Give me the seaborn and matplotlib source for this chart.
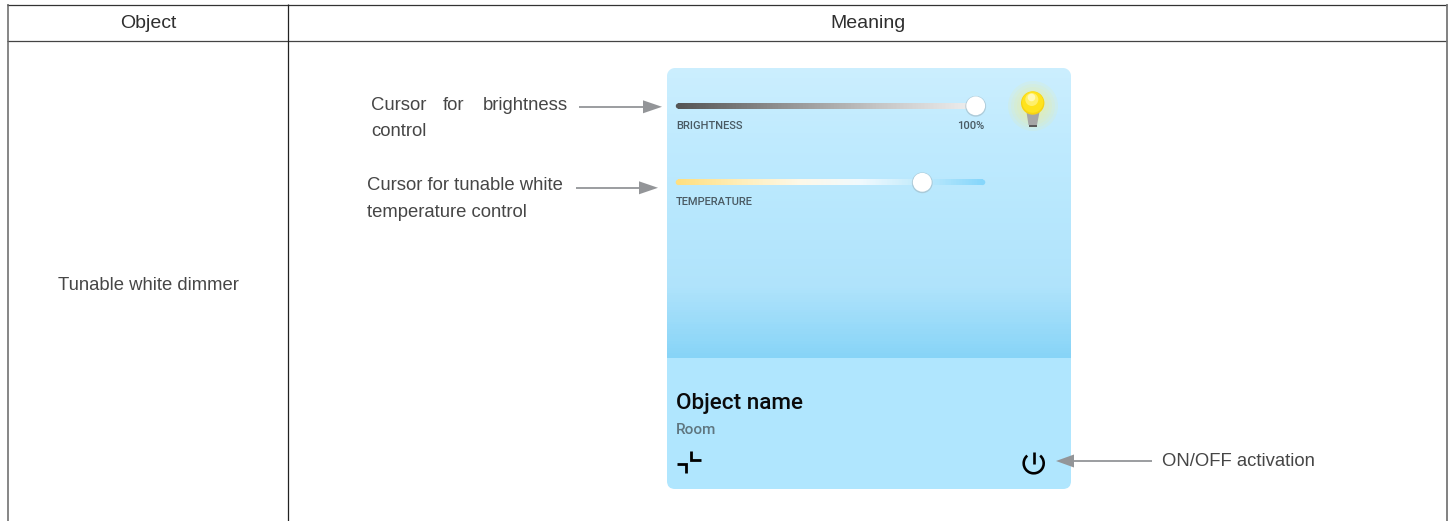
import numpy as np
import seaborn as sns
from matplotlib import pyplot as plt
from matplotlib.colors import LinearSegmentedColormap
from matplotlib.patches import FancyBboxPatch, Circle, Rectangle, Wedge, Polygon

W, H = 1453, 521

headers = ["Object", "Meaning"]
row_label = "Tunable white dimmer"
card_title = "Object name"
card_room = "Room"
slider_names = ["BRIGHTNESS", "TEMPERATURE"]
brightness_label = "100%"
brightness_level = 100
temperature_level = 79.7
callout_brightness = ["Cursor", "for", "brightness"]
callout_brightness_2 = "control"
callout_temp = ["Cursor for tunable white", "temperature control"]
callout_power = "ON/OFF activation"

card_colors = ["#cbeefe", "#bfeafe", "#b7e7fd", "#b0e3fb", "#87d4f7"]
brightness_colors = ["#555555", "#8e8e8e", "#c4c4c4", "#efefef"]
temp_colors = ["#ffdf80", "#ffedb8", "#fdf8e8", "#f0f9fd", "#c0eafc", "#86d6fb"]


def gradient_axes(fig, x0, y0, x1, y1, colors, n, z, horizontal=False):
    # a heatmap in its own axes, placed in pixels from top left
    ax = fig.add_axes([x0 / W, 1 - y1 / H, (x1 - x0) / W, (y1 - y0) / H], zorder=z)
    vals = np.linspace(0, 1, n)
    vals = vals.reshape(1, -1) if horizontal else vals.reshape(-1, 1)
    cmap = LinearSegmentedColormap.from_list("g", colors)
    sns.heatmap(vals, ax=ax, cmap=cmap, cbar=False, xticklabels=False, yticklabels=False,
                vmin=0, vmax=1, rasterized=True)
    ax.axis("off")
    return ax


def overlay(fig, z):
    ax = fig.add_axes([0, 0, 1, 1], zorder=z)
    ax.set_xlim(0, W)
    ax.set_ylim(H, 0)
    ax.axis("off")
    ax.patch.set_alpha(0)
    return ax


def main():
    sns.set_theme(style="white")
    plt.rcParams["font.family"] = ["Liberation Sans", "DejaVu Sans"]
    roboto = ["Roboto", "DejaVu Sans"]

    fig = plt.figure(figsize=(W / 100, H / 100), dpi=100, facecolor="white")
    ax = overlay(fig, 1)

    # table rules
    ax.plot([7, 1447], [4.5, 4.5], color="#333333", lw=0.9, solid_capstyle="butt")
    ax.plot([7, 1447], [40.5, 40.5], color="#444444", lw=0.9, solid_capstyle="butt")
    ax.plot([7.5, 7.5], [4, 521], color="#666666", lw=1.1, solid_capstyle="butt")
    ax.plot([287.5, 287.5], [4, 521], color="#222222", lw=0.9, solid_capstyle="butt")
    ax.plot([1447, 1447], [4, 521], color="#777777", lw=1.3, solid_capstyle="butt")

    ax.text(148, 24, headers[0], ha="center", va="center", fontsize=14, color="#2f2f2f")
    ax.text(868, 24, headers[1], ha="center", va="center", fontsize=14, color="#2f2f2f")

    body = "#464646"
    ax.text(148, 285.5, row_label, ha="center", va="center", fontsize=13.3, color=body)

    ax.add_patch(FancyBboxPatch((667, 68), 404, 421, boxstyle="round,pad=0,rounding_size=8",
                                fc="#b0e6fe", ec="none"))

    # top gradient of the card
    gradient_axes(fig, 667, 68, 1071, 358, card_colors, 120, 2)

    ax2 = overlay(fig, 3)

    # white corners over the square heatmap top
    pts = np.linspace(0, np.pi / 2, 12)
    arc = [(675 - 8 * np.cos(t), 76 - 8 * np.sin(t)) for t in pts]
    ax2.add_patch(Polygon(arc + [(667, 68)], fc="white", ec="none"))
    arc = [(1063 + 8 * np.cos(t), 76 - 8 * np.sin(t)) for t in pts]
    ax2.add_patch(Polygon(arc + [(1071, 68)], fc="white", ec="none"))

    # round ends of the slider tracks
    ax2.add_patch(Circle((678.5, 106), 2.7, fc=brightness_colors[0], ec="none"))
    ax2.add_patch(Circle((678.5, 182.3), 2.8, fc=temp_colors[0], ec="none"))
    ax2.add_patch(Circle((982.5, 182.3), 2.8, fc=temp_colors[-1], ec="none"))

    # sliders
    gradient_axes(fig, 678, 103.3, 976, 108.7, brightness_colors, 200, 4, horizontal=True)
    gradient_axes(fig, 678, 179.4, 983, 185.2, temp_colors, 200, 4, horizontal=True)

    ax3 = overlay(fig, 5)

    knob_b = 676 + (976 - 676) * brightness_level / 100
    knob_t = 676 + (985 - 676) * temperature_level / 100
    for kx, ky in [(knob_b - 0.3, 105.8), (knob_t, 182.3)]:
        ax3.add_patch(Circle((kx, ky + 0.5), 10.4, fc="#9fb7c2", ec="none", alpha=0.6))
        ax3.add_patch(Circle((kx, ky), 9.4, fc="white", ec="none"))

    label = "#4a5a63"
    for txt, yy in zip(slider_names, [126, 202]):
        ax3.text(676, yy, txt, ha="left", va="center", fontsize=8, color=label,
                 family=roboto, weight="medium")
    ax3.text(984.5, 126, brightness_label, ha="right", va="center", fontsize=8, color=label,
             family=roboto, weight="medium")

    ax3.text(675.5, 403, card_title, ha="left", va="center", fontsize=16.2, color="#0a0a0a",
             family=roboto, weight="medium")
    ax3.text(675.5, 430.5, card_room, ha="left", va="center", fontsize=11, color="#5f7680",
             family=roboto, weight="medium")

    # collapse icon
    ax3.plot([677, 686.4, 686.4], [463.5, 463.5, 473], color="black", lw=2, solid_joinstyle="miter",
             solid_capstyle="butt")
    ax3.plot([690.8, 690.8, 701], [451, 459.5, 459.5], color="black", lw=2, solid_joinstyle="miter",
             solid_capstyle="butt")

    # power icon
    ax3.add_patch(Wedge((1033.7, 463.3), 11.3, -50, 230, width=2.6, fc="black", ec="none"))
    ax3.plot([1033.7, 1033.7], [451.7, 464], color="black", lw=1.9, solid_capstyle="butt")

    # bulb
    for r in [25, 22, 19, 16, 13]:
        ax3.add_patch(Circle((1033, 106), r, fc="#f6f28c", ec="none", alpha=0.13))
    ax3.add_patch(Polygon([(1026.5, 112), (1039.5, 112), (1037, 125), (1028.5, 125)], fc="#a6a6a6", ec="none"))
    ax3.add_patch(Rectangle((1029, 124.5), 7.5, 2.7, fc="#5a5a5a", ec="none"))
    ax3.add_patch(Circle((1032.7, 103), 11.7, fc="#f7d312", ec="none"))
    ax3.add_patch(Circle((1032.7, 102.2), 10.6, fc="#ffe31c", ec="none"))
    ax3.add_patch(Circle((1031.8, 99.5), 6.5, fc="#fff06a", ec="none"))
    ax3.add_patch(Circle((1031.5, 97.5), 3.8, fc="#fff9b5", ec="none"))

    # callouts
    for word, xx in zip(callout_brightness, [371, 443, 483]):
        ax3.text(xx, 105, word, ha="left", va="center", fontsize=13.3, color=body)
    ax3.text(371, 132, callout_brightness_2, ha="left", va="center", fontsize=13.3, color=body)
    ax3.text(367, 186, callout_temp[0], ha="left", va="center", fontsize=13.3, color=body)
    ax3.text(367, 212.5, callout_temp[1], ha="left", va="center", fontsize=13.3, color=body)
    ax3.text(1162, 462, callout_power, ha="left", va="center", fontsize=13.3, color=body)

    # arrows: shaft then head
    arrow = "#939598"
    ax3.plot([579, 645], [106.8, 106.8], color=arrow, lw=1.3, solid_capstyle="butt")
    ax3.add_patch(Polygon([(643, 100.3), (662, 106.8), (643, 113.3)], fc=arrow, ec="none"))
    ax3.plot([576, 641], [187.8, 187.8], color=arrow, lw=1.3, solid_capstyle="butt")
    ax3.add_patch(Polygon([(639, 181.3), (658, 187.8), (639, 194.3)], fc=arrow, ec="none"))
    ax3.plot([1152, 1072], [461, 461], color=arrow, lw=1.3, solid_capstyle="butt")
    ax3.add_patch(Polygon([(1074, 454.5), (1056, 461), (1074, 467.5)], fc=arrow, ec="none"))

    fig.savefig("out.png", dpi=100)


if __name__ == "__main__":
    main()
